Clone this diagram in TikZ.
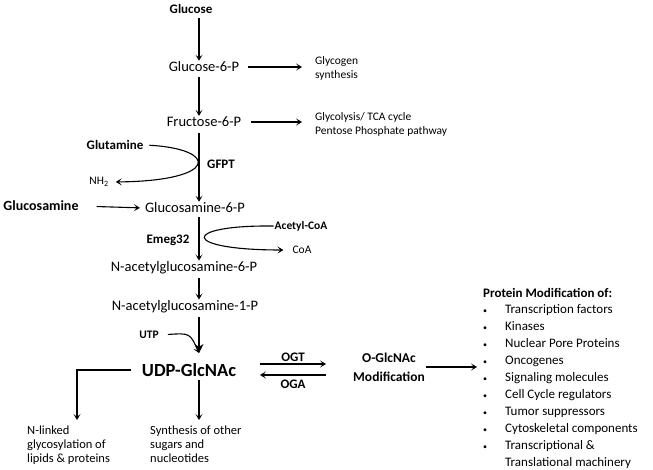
\documentclass[tikz,border=0pt]{standalone}
\usepackage{fontspec}
\setmainfont{Carlito}
\usetikzlibrary{positioning,arrows.meta}
\newcommand\bul{{\fontsize{8}{8}\selectfont\textbullet}}
\begin{document}
\begin{tikzpicture}[x=1pt,y=-1pt,
    lbl/.style={inner sep=1pt,font=\fontsize{14.5}{17}\selectfont},
    key/.style={inner sep=1pt,font=\fontsize{13}{15}\selectfont\bfseries},
    note/.style={inner sep=1pt,font=\fontsize{11.5}{14}\selectfont,align=left},
    flow/.style={-{Stealth[length=6pt,width=7pt,inset=3pt]},line width=1.1pt}]
    \useasboundingbox (0,0) rectangle (653,470);

    \coordinate (Axis) at (199,0);
    \coordinate (Glc) at (191,9);
    \coordinate (G6P) at (204,67);
    \coordinate (F6P) at (204,122);
    \coordinate (GlcN6P) at (195,208);
    \coordinate (NAc6P) at (184,268);
    \coordinate (NAc1P) at (185,307);
    \coordinate (Udp) at (189,370);
    \coordinate (Ogm) at (389,367);

    \node[key] (glc) at (Glc) {Glucose};
    \node[lbl] (g6p) at (G6P) {Glucose-6-P};
    \node[lbl] (f6p) at (F6P) {Fructose-6-P};
    \node[lbl] (gln6p) at (GlcN6P) {Glucosamine-6-P};
    \node[lbl] (nac6p) at (NAc6P) {N-acetylglucosamine-6-P};
    \node[lbl] (nac1p) at (NAc1P) {N-acetylglucosamine-1-P};
    \node[inner sep=1pt,font=\fontsize{18.5}{22}\selectfont\bfseries] (udp) at (Udp) {UDP-GlcNAc};
    \node[key,align=center,font=\fontsize{13.5}{19}\selectfont\bfseries] (ogm) at (Ogm) {O-GlcNAc\\Modification};

    \node[note,anchor=west] (glyc) at (314,68) {Glycogen\\synthesis};
    \node[note,anchor=west] (tca) at (314,124) {Glycolysis/ TCA cycle\\Pentose Phosphate pathway};
    \node[key] (glm) at (115,145) {Glutamine};
    \node[note] (nh2) at (99,182) {NH\textsubscript{2}};
    \node[key] (gfpt) at (221,164) {GFPT};
    \node[key,font=\fontsize{14}{16}\selectfont\bfseries] (gln) at (41,206) {Glucosamine};
    \node[key,font=\fontsize{11.5}{14}\selectfont\bfseries] (acoa) at (301,226) {Acetyl-CoA};
    \node[note] (coa) at (302,250) {CoA};
    \node[key] (emeg) at (168,240) {Emeg32};
    \node[key,font=\fontsize{11.5}{14}\selectfont\bfseries] (utp) at (149,335) {UTP};
    \node[key] (ogt) at (293,357) {OGT};
    \node[key] (oga) at (293,384) {OGA};
    \node[note,anchor=north west,font=\fontsize{12.5}{14}\selectfont] (nlink) at (26,425) {N-linked\\glycosylation of\\lipids \& proteins};
    \node[note,anchor=north west,font=\fontsize{12.5}{14}\selectfont] (synth) at (149,425) {Synthesis of other\\sugars and\\nucleotides};
    \node[inner sep=0pt,anchor=north west,font=\fontsize{13}{16.9}\selectfont] (mods) at (483,285) {%
      \begin{tabular}{@{}l@{\hspace{18pt}}l@{}}
        \multicolumn{2}{@{}l}{\bfseries Protein Modification of:}\\
        \bul & Transcription factors\\
        \bul & Kinases\\
        \bul & Nuclear Pore Proteins\\
        \bul & Oncogenes\\
        \bul & Signaling molecules\\
        \bul & Cell Cycle regulators\\
        \bul & Tumor suppressors\\
        \bul & Cytoskeletal components\\
        \bul & Transcriptional \&\\
             & Translational machinery
      \end{tabular}};

    \coordinate (OgtL) at (260,364);
    \coordinate (OgtR) at (326,364);
    \coordinate (OgaL) at (260,375);
    \coordinate (OgaR) at (326,375);
    \coordinate (NlTip) at (77,420);
    \coordinate (SyTip) at (199,420);
    \coordinate (UdpTip) at (199,353);

    \draw[flow,shorten <=3pt] (glc.south -| Axis) -- (g6p.north -| Axis);
    \draw[flow,shorten <=4pt] (g6p.south -| Axis) -- (f6p.north -| Axis);
    \draw[flow,shorten <=5pt] (f6p.south -| Axis) -- (gln6p.north -| Axis);
    \draw[flow,shorten <=3pt] (gln6p.south -| Axis) -- (nac6p.north -| Axis);
    \draw[flow,shorten <=3pt] (nac6p.south -| Axis) -- (nac1p.north -| Axis);
    \draw[flow,shorten <=3pt,-{Stealth[length=9pt,width=9pt,inset=3pt]},line width=1.3pt] (nac1p.south -| Axis) -- (UdpTip);
    \draw[flow,shorten <=2pt] (udp.south -| Axis) -- (SyTip);
    \draw[flow,shorten <=10pt] (udp.west) -| (NlTip);

    \draw[flow,shorten <=8pt,shorten >=12pt] (g6p.east) -- (glyc.west |- g6p.east);
    \draw[flow,shorten <=9pt,shorten >=12pt] (f6p.east) -- (tca.west |- f6p.east);
    \draw[flow,shorten <=17pt,shorten >=4pt] (gln.east) -- (gln6p.west);

    \draw[flow,shorten <=5pt,shorten >=6pt] (glm.east) .. controls (219,149) and (219,181) .. (nh2.east);
    \draw[flow,shorten >=8pt] (acoa.west) .. controls (180,225) and (180,250) .. (coa.west);
    \draw[flow,shorten <=8pt] (utp.east) .. controls (190,333) .. (UdpTip);

    \draw[flow] (OgtL) -- (OgtR);
    \draw[flow] (OgaR) -- (OgaL);
    \draw[flow,shorten >=6pt] (ogm.east) -- (ogm.east -| mods.west);
\end{tikzpicture}
\end{document}
